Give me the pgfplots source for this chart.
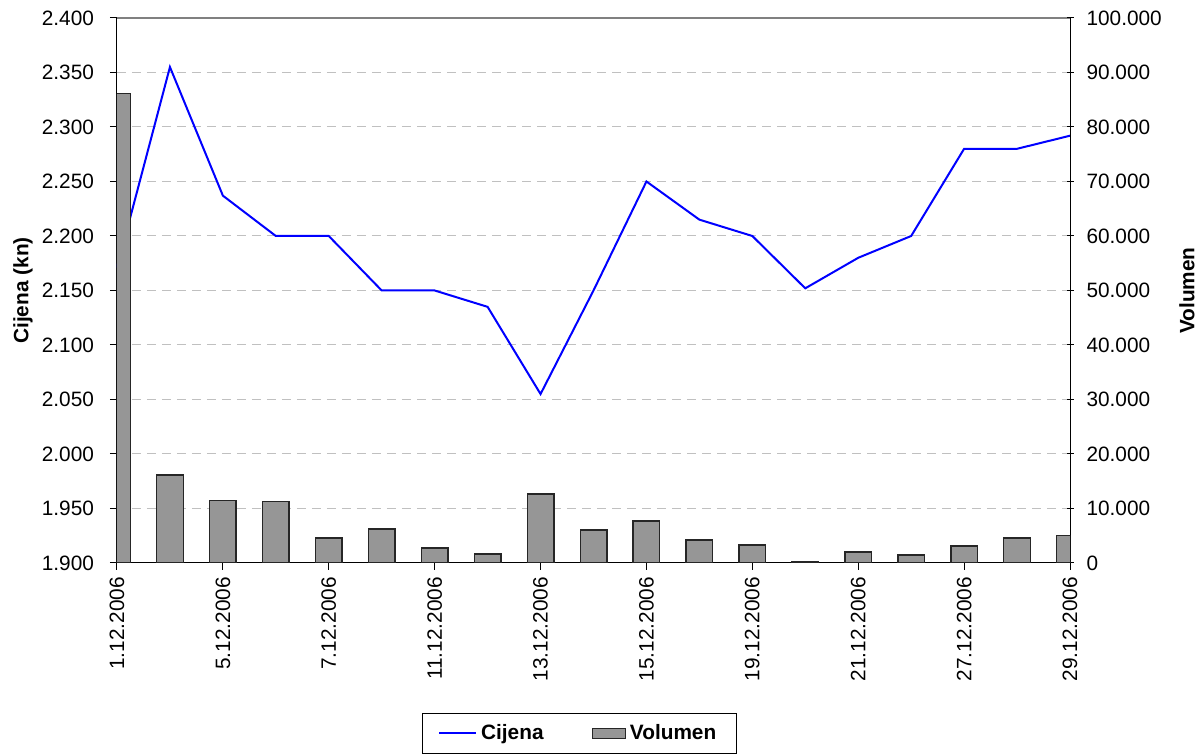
\documentclass[border=0pt]{standalone}
\usepackage{fontspec}
\setmainfont{Liberation Sans}
\usepackage{pgfplots}
\usepackage{pgfplotstable}
\pgfplotsset{compat=1.18}

\definecolor{barfill}{RGB}{150,150,150}
\definecolor{gridgray}{RGB}{192,192,192}

% idx = trading day, price in kn, volume
\pgfplotstableread{
idx price vol
0  2.171 86100
1  2.355 16150
2  2.237 11500
3  2.200 11300
4  2.200 4590
5  2.150 6240
6  2.150 2750
7  2.135 1650
8  2.055 12660
9  2.150 6060
10 2.250 7700
11 2.215 4220
12 2.200 3300
13 2.152 150
14 2.180 2020
15 2.200 1470
16 2.280 3120
17 2.280 4590
18 2.292 5080
}\data

\pgfplotsset{
  common/.style={
    scale only axis,
    width=476.5pt, height=272.5pt,
    xmin=0, xmax=18,
    /pgf/number format/assume math mode=true,
    tick label style={font=\fontsize{10.4}{12}\selectfont},
    label style={font=\fontsize{10.4}{12}\selectfont\bfseries},
    major tick length=3.5pt,
    axis line style={line width=0.5pt},
    tick style={black, line width=0.5pt},
  },
  linelegend/.style={legend image code/.code={\draw[##1] (0pt,0pt) -- (18.5pt,0pt);}},
  barlegend/.style={legend image code/.code={\draw[##1] (0pt,-2.4pt) rectangle (16.5pt,2.4pt);}},
}

\begin{document}
\begin{tikzpicture}
\begin{axis}[
  common,
  ymin=1.9, ymax=2.4,
  axis x line*=bottom, axis y line*=left,
  tick align=outside,
  ytick={1.9,1.95,2.0,2.05,2.1,2.15,2.2,2.25,2.3,2.35,2.4},
  yticklabel style={xshift=-4.5pt, /pgf/number format/.cd, fixed, fixed zerofill, precision=3},
  xtick={0,2,...,18},
  xticklabels={\mbox{1.12.2006},\mbox{5.12.2006},\mbox{7.12.2006},\mbox{11.12.2006},\mbox{13.12.2006},\mbox{15.12.2006},\mbox{19.12.2006},\mbox{21.12.2006},\mbox{27.12.2006},\mbox{29.12.2006}},
  xticklabel style={rotate=90, anchor=east},
  ymajorgrids,
  grid style={gridgray, line width=0.5pt, dash pattern=on 4.5pt off 3pt},
  ylabel={Cijena (kn)},
  ylabel style={at={(axis description cs:-0.0986,0.5)}, anchor=center},
]
\addplot[blue, line width=1pt] table[x=idx, y=price] {\data};
\draw[gray, line width=0.8pt] (rel axis cs:0,1) -- (rel axis cs:1,1);
\end{axis}

\begin{axis}[
  common,
  ymin=0, ymax=100000,
  axis x line=none, axis y line*=right,
  tick align=center,
  ytick={0,10000,...,100000},
  scaled y ticks=false,
  yticklabel style={xshift=3pt, /pgf/number format/.cd, fixed, 1000 sep={.}},
  ylabel={Volumen},
  ylabel style={at={(axis description cs:1.1228,0.5)}, anchor=center},
  ybar, bar width=13.3pt,
  legend columns=2,
  legend style={at={(0.485,-0.275)}, anchor=north, draw=black, line width=0.5pt,
    font=\fontsize{10.4}{12}\selectfont\bfseries,
    inner xsep=8pt, inner ysep=3.5pt,
    /tikz/every even column/.append style={column sep=22pt}},
]
\addlegendimage{blue, line width=1pt, linelegend}
\addlegendentry{Cijena}
\addplot[fill=barfill, draw=black!85, line width=0.7pt, barlegend]
  table[x=idx, y=vol] {\data};
\addlegendentry{Volumen}
\end{axis}
\pgfresetboundingbox
\useasboundingbox (-58.5pt,-95.5pt) rectangle (541.5pt,281.5pt);
\end{tikzpicture}
\end{document}
